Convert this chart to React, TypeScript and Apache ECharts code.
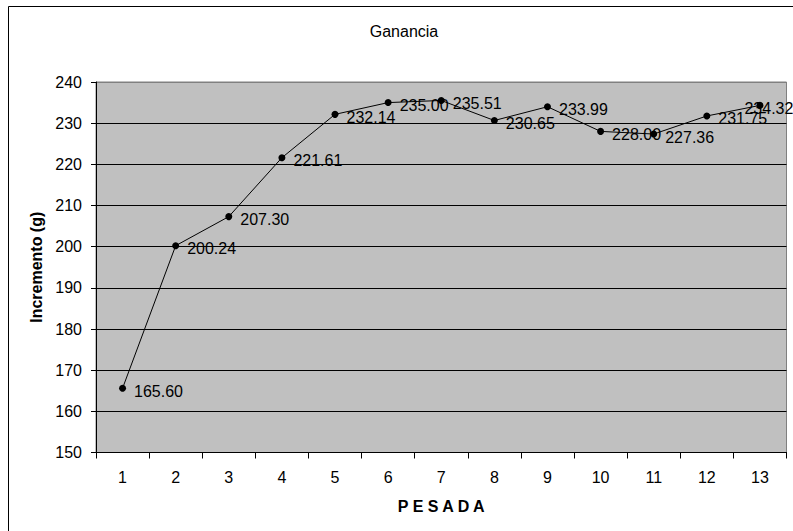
import React, { useEffect, useRef } from "react";
import * as echarts from "echarts";

const categories = ["1", "2", "3", "4", "5", "6", "7", "8", "9", "10", "11", "12", "13"];
const values = [165.6, 200.24, 207.3, 221.61, 232.14, 235.0, 235.51, 230.65, 233.99, 228.0, 227.36, 231.75, 234.32];
const titleText = "Ganancia";
const yName = "Incremento (g)";
const xName = "P E S A D A";

const FONT = "'Liberation Sans', Arial, sans-serif";

export default function App() {
  const ref = useRef<HTMLDivElement>(null);
  useEffect(() => {
    document.body.style.margin = "0";
    const chart = echarts.init(ref.current!, null, { renderer: "svg" });
    const splitColors = ["#000", "#000", "#000", "#000", "#000", "#000", "#000", "#000", "#000", "#808080"];
    const lastIdx = values.length - 1;
    const seriesData = values.map((v, i) =>
      i === lastIdx ? { value: v, label: { offset: [-27, 3] } } : { value: v }
    );
    chart.setOption({
      animation: false,
      backgroundColor: "#ffffff",
      textStyle: { fontFamily: FONT },
      graphic: [
        {
          type: "rect",
          shape: { x: 8.5, y: 6.5, width: 900, height: 700 },
          style: { fill: "none", stroke: "#000", lineWidth: 1 },
          silent: true,
        },
        {
          type: "text",
          x: 404,
          y: 31,
          style: {
            text: titleText,
            fontFamily: FONT,
            fontSize: 16,
            fill: "#000",
            textAlign: "center",
            textVerticalAlign: "middle",
          },
        },
      ],
      grid: {
        left: 96,
        right: 6.5,
        top: 82,
        bottom: 78.5,
        show: true,
        backgroundColor: "#c0c0c0",
        borderColor: "#808080",
        borderWidth: 1,
      },
      xAxis: {
        type: "category",
        data: categories,
        boundaryGap: true,
        name: xName,
        nameLocation: "middle",
        nameGap: 46,
        nameTextStyle: { fontFamily: FONT, fontSize: 16, fontWeight: "bold", color: "#000" },
        axisLine: { lineStyle: { color: "#000", width: 1 } },
        axisTick: { show: true, length: 6, lineStyle: { color: "#000" } },
        axisLabel: { fontFamily: FONT, fontSize: 16, color: "#000", margin: 17 },
        splitLine: { show: false },
      },
      yAxis: {
        type: "value",
        min: 150,
        max: 240,
        interval: 10,
        name: yName,
        nameLocation: "middle",
        nameGap: 41,
        nameTextStyle: { fontFamily: FONT, fontSize: 16, fontWeight: "bold", color: "#000" },
        axisLine: { show: true, lineStyle: { color: "#000", width: 1 } },
        axisTick: { show: true, length: 5, lineStyle: { color: "#000" } },
        axisLabel: { fontFamily: FONT, fontSize: 16, color: "#000", margin: 14 },
        splitLine: { show: true, lineStyle: { color: splitColors, width: 1 } },
      },
      series: [
        {
          type: "line",
          data: seriesData,
          symbol: "circle",
          symbolSize: 7,
          lineStyle: { color: "#000", width: 1 },
          itemStyle: { color: "#000" },
          label: {
            show: true,
            position: "right",
            distance: 8,
            offset: [0, 3],
            fontFamily: FONT,
            fontSize: 16,
            color: "#000",
            formatter: (p: any) => Number(p.value).toFixed(2),
          },
        },
      ],
    });
    return () => chart.dispose();
  }, []);
  return <div ref={ref} style={{ width: 793, height: 531 }} />;
}
